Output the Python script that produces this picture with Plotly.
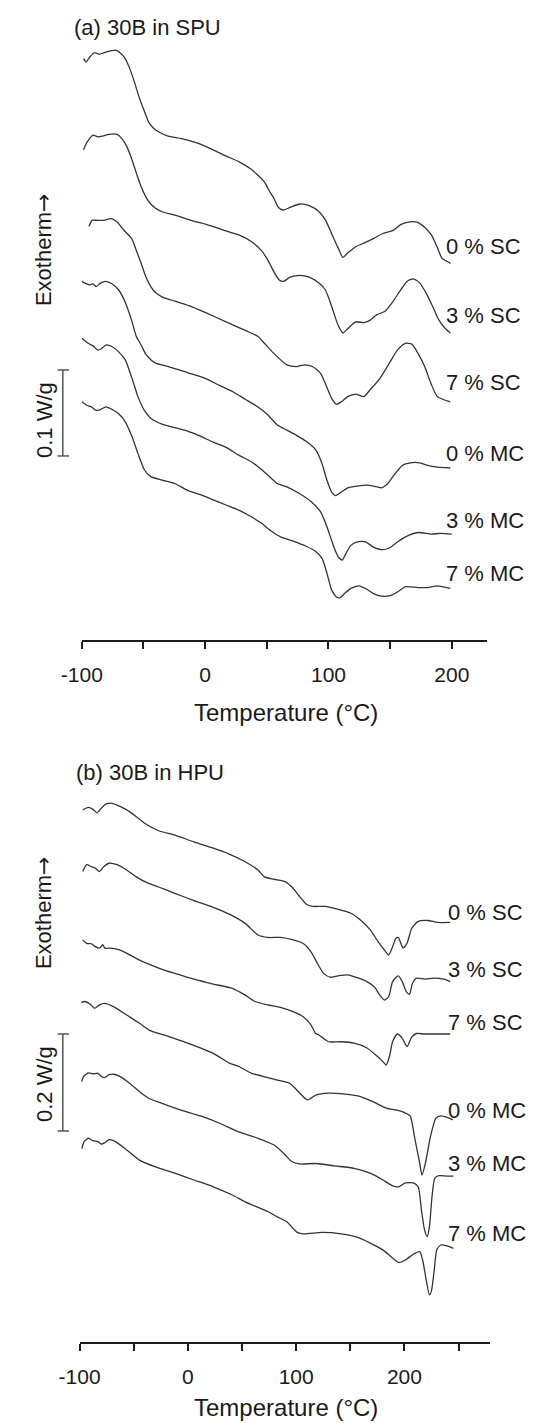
import plotly.graph_objects as go

W, H = 538, 1423

# ---------------- Panel (a): 30B in SPU (heat flow, W/g, curves stacked) -------------
T_a_0SC = [-98.5, -96.6, -93.5, -89.6, -85.7, -81.8, -76.6, -72.7, -69.1, -65.2, -61.3, -57.4, -53.5, -49.6, -45.7, -41.8, -37.9, -30.1, -19.2, -6.7, 6.5, 16.7, 27.6, 37.7, 47.8, 51.7, 55.6, 59.5, 63.4, 68.9, 76.7, 84.4, 92.3, 97.7, 102.4, 107.8, 111.7, 115.6, 121.8, 129.6, 136.7, 144.4, 152.2, 158.5, 164.7, 171.7, 178.0, 183.4, 188.1, 192.0, 199.0]
HF_a_0SC = [0.676, 0.672, 0.678, 0.683, 0.681, 0.683, 0.685, 0.686, 0.683, 0.677, 0.665, 0.649, 0.631, 0.616, 0.602, 0.595, 0.591, 0.586, 0.583, 0.578, 0.570, 0.563, 0.556, 0.547, 0.533, 0.523, 0.514, 0.503, 0.500, 0.503, 0.507, 0.505, 0.498, 0.488, 0.473, 0.456, 0.445, 0.450, 0.457, 0.462, 0.467, 0.473, 0.476, 0.483, 0.486, 0.486, 0.480, 0.471, 0.457, 0.444, 0.438]

T_a_3SC = [-98.6, -96.5, -94.8, -90.9, -87.0, -83.1, -77.9, -71.4, -67.5, -63.6, -59.7, -55.8, -51.9, -48.0, -44.1, -40.2, -35.0, -24.6, -11.6, 1.3, 14.3, 27.3, 37.7, 45.5, 50.7, 55.8, 59.8, 63.6, 68.9, 76.7, 84.4, 92.3, 97.5, 102.6, 107.8, 111.7, 115.6, 122.1, 128.6, 133.8, 139.0, 145.5, 152.0, 158.5, 163.7, 168.8, 174.1, 179.3, 184.4, 189.6, 194.9, 198.8]
HF_a_3SC = [0.570, 0.577, 0.581, 0.587, 0.585, 0.586, 0.588, 0.588, 0.583, 0.574, 0.560, 0.543, 0.527, 0.515, 0.507, 0.502, 0.498, 0.494, 0.488, 0.483, 0.477, 0.471, 0.463, 0.453, 0.442, 0.428, 0.419, 0.417, 0.422, 0.424, 0.422, 0.415, 0.407, 0.388, 0.366, 0.357, 0.362, 0.370, 0.369, 0.372, 0.378, 0.382, 0.393, 0.407, 0.417, 0.420, 0.415, 0.403, 0.388, 0.372, 0.362, 0.357]

T_a_7SC = [-94.2, -91.7, -87.0, -82.3, -76.1, -71.4, -66.2, -59.7, -55.8, -51.9, -48.0, -44.1, -40.2, -35.0, -24.6, -11.6, 1.3, 16.9, 32.5, 42.9, 48.1, 55.8, 66.3, 74.1, 80.6, 87.0, 93.6, 98.7, 102.6, 106.5, 110.4, 115.6, 122.1, 128.6, 133.8, 141.6, 149.4, 155.9, 162.4, 167.6, 172.7, 178.0, 183.2, 188.3, 198.8]
HF_a_7SC = [0.481, 0.488, 0.488, 0.488, 0.490, 0.486, 0.477, 0.467, 0.453, 0.438, 0.422, 0.411, 0.404, 0.399, 0.394, 0.388, 0.380, 0.370, 0.360, 0.353, 0.345, 0.333, 0.320, 0.318, 0.320, 0.318, 0.310, 0.294, 0.281, 0.274, 0.277, 0.283, 0.286, 0.283, 0.291, 0.304, 0.322, 0.337, 0.345, 0.344, 0.333, 0.318, 0.298, 0.283, 0.277]

T_a_0MC = [-100.0, -96.1, -93.5, -90.9, -88.3, -84.9, -80.5, -75.3, -70.1, -64.9, -59.7, -55.8, -51.9, -48.0, -44.1, -40.2, -29.9, -14.3, -1.3, 11.7, 22.1, 32.5, 42.9, 50.7, 58.5, 66.3, 74.1, 81.9, 89.7, 94.8, 98.7, 102.6, 105.7, 110.4, 115.6, 123.4, 131.2, 136.4, 142.9, 148.1, 153.3, 159.8, 166.3, 174.1, 180.5, 188.3, 198.8]
HF_a_0MC = [0.417, 0.414, 0.413, 0.414, 0.411, 0.415, 0.417, 0.414, 0.407, 0.393, 0.372, 0.353, 0.343, 0.332, 0.326, 0.322, 0.318, 0.311, 0.305, 0.296, 0.289, 0.280, 0.271, 0.262, 0.250, 0.244, 0.238, 0.231, 0.221, 0.205, 0.186, 0.172, 0.168, 0.172, 0.177, 0.179, 0.180, 0.179, 0.177, 0.182, 0.192, 0.203, 0.206, 0.206, 0.203, 0.201, 0.200]

T_a_3MC = [-100.0, -94.8, -90.9, -87.0, -83.9, -80.5, -75.3, -70.1, -64.9, -59.7, -54.5, -49.3, -44.1, -35.0, -24.6, -14.3, -3.8, 6.5, 16.9, 27.3, 37.7, 44.2, 50.7, 58.5, 66.3, 76.7, 85.8, 93.6, 98.7, 103.9, 107.8, 111.2, 114.3, 118.2, 123.4, 129.9, 136.4, 142.9, 149.4, 155.9, 162.4, 172.7, 183.2, 191.0, 200.0]
HF_a_3MC = [0.351, 0.345, 0.342, 0.337, 0.339, 0.343, 0.341, 0.335, 0.326, 0.306, 0.283, 0.267, 0.258, 0.251, 0.247, 0.243, 0.237, 0.230, 0.224, 0.215, 0.207, 0.200, 0.192, 0.182, 0.178, 0.170, 0.161, 0.149, 0.132, 0.110, 0.097, 0.093, 0.101, 0.110, 0.114, 0.114, 0.108, 0.105, 0.107, 0.114, 0.120, 0.125, 0.123, 0.124, 0.123]

T_a_7MC = [-100.0, -96.1, -92.2, -88.3, -84.9, -80.5, -75.3, -70.1, -64.9, -59.7, -54.5, -49.3, -44.1, -35.0, -24.6, -14.3, -3.8, 6.5, 16.9, 27.3, 37.7, 45.5, 53.3, 61.1, 71.4, 81.9, 89.7, 94.8, 98.7, 102.6, 106.5, 109.1, 113.0, 118.2, 124.7, 131.2, 136.4, 142.9, 150.7, 157.2, 162.4, 172.7, 180.5, 188.3, 198.8]
HF_a_7MC = [0.277, 0.273, 0.271, 0.267, 0.268, 0.271, 0.268, 0.263, 0.254, 0.238, 0.217, 0.198, 0.190, 0.186, 0.182, 0.174, 0.169, 0.163, 0.157, 0.151, 0.143, 0.136, 0.127, 0.120, 0.115, 0.109, 0.103, 0.095, 0.078, 0.058, 0.050, 0.049, 0.054, 0.060, 0.063, 0.059, 0.054, 0.051, 0.052, 0.057, 0.062, 0.061, 0.061, 0.063, 0.060]

# ---------------- Panel (b): 30B in HPU -------------
T_b_0SC = [-97.1, -92.0, -87.6, -84.0, -80.2, -75.8, -71.3, -65.4, -56.5, -47.6, -38.8, -27.0, -12.1, 5.6, 23.4, 38.2, 52.9, 64.8, 70.7, 79.6, 89.9, 97.3, 103.3, 109.2, 115.1, 126.9, 138.8, 150.6, 159.4, 168.3, 175.8, 181.6, 185.5, 189.1, 192.0, 194.4, 196.7, 198.8, 202.4, 206.8, 212.7, 221.6, 230.4, 242.3]
HF_b_0SC = [1.097, 1.102, 1.098, 1.091, 1.100, 1.109, 1.111, 1.107, 1.097, 1.083, 1.068, 1.054, 1.045, 1.031, 1.018, 1.006, 0.990, 0.973, 0.959, 0.954, 0.949, 0.935, 0.918, 0.903, 0.898, 0.898, 0.892, 0.884, 0.870, 0.850, 0.825, 0.808, 0.798, 0.815, 0.832, 0.834, 0.822, 0.812, 0.822, 0.853, 0.867, 0.869, 0.865, 0.865]

T_b_3SC = [-97.1, -93.5, -89.1, -85.5, -81.6, -77.8, -72.8, -65.4, -56.5, -47.6, -38.8, -27.0, -12.1, 5.6, 23.4, 38.2, 52.9, 64.8, 73.7, 85.5, 97.3, 106.2, 113.6, 119.5, 125.4, 131.4, 138.8, 147.6, 156.5, 165.4, 172.7, 177.2, 181.6, 185.5, 189.1, 194.4, 198.0, 201.8, 204.7, 207.4, 211.3, 218.6, 227.5, 236.4, 242.3]
HF_b_3SC = [0.970, 0.984, 0.980, 0.977, 0.970, 0.980, 0.987, 0.984, 0.973, 0.959, 0.948, 0.938, 0.925, 0.910, 0.896, 0.882, 0.863, 0.839, 0.834, 0.834, 0.829, 0.822, 0.805, 0.781, 0.760, 0.752, 0.755, 0.757, 0.751, 0.743, 0.731, 0.715, 0.705, 0.712, 0.743, 0.755, 0.743, 0.722, 0.717, 0.739, 0.750, 0.748, 0.750, 0.748, 0.743]

T_b_7SC = [-97.1, -93.5, -89.1, -85.5, -81.6, -78.7, -76.7, -71.3, -62.5, -53.6, -41.7, -27.0, -12.1, 5.6, 23.4, 41.1, 52.9, 61.8, 73.7, 85.5, 97.3, 106.2, 113.6, 118.1, 121.0, 129.9, 141.7, 153.6, 165.4, 174.3, 180.2, 183.1, 186.1, 189.1, 193.5, 198.0, 202.4, 206.8, 211.3, 218.6, 230.4, 242.3]
HF_b_7SC = [0.829, 0.822, 0.821, 0.815, 0.812, 0.819, 0.812, 0.812, 0.808, 0.798, 0.784, 0.771, 0.760, 0.748, 0.738, 0.729, 0.715, 0.702, 0.695, 0.690, 0.681, 0.671, 0.654, 0.636, 0.633, 0.619, 0.619, 0.616, 0.606, 0.590, 0.578, 0.571, 0.588, 0.619, 0.635, 0.626, 0.609, 0.629, 0.636, 0.635, 0.635, 0.635]

T_b_0MC = [-98.5, -94.9, -90.5, -86.1, -81.6, -77.2, -68.3, -56.5, -44.7, -35.8, -18.1, -0.3, 23.4, 38.2, 47.1, 58.9, 82.6, 94.4, 103.3, 110.6, 118.1, 129.9, 144.7, 159.4, 171.3, 183.1, 194.9, 200.9, 205.3, 209.8, 214.2, 216.2, 219.3, 224.0, 229.0, 233.5, 239.3, 244.7]
HF_b_0MC = [0.700, 0.702, 0.697, 0.688, 0.695, 0.698, 0.691, 0.674, 0.657, 0.643, 0.630, 0.616, 0.595, 0.575, 0.568, 0.554, 0.540, 0.533, 0.513, 0.499, 0.509, 0.513, 0.511, 0.506, 0.495, 0.482, 0.477, 0.472, 0.466, 0.417, 0.368, 0.344, 0.368, 0.423, 0.461, 0.466, 0.463, 0.458]

T_b_3MC = [-98.0, -96.4, -92.0, -87.6, -83.1, -80.2, -76.7, -72.8, -68.3, -62.5, -53.6, -44.7, -35.8, -23.9, -6.2, 11.6, 29.3, 47.1, 64.8, 79.6, 88.4, 95.9, 103.3, 118.1, 135.8, 153.6, 168.3, 180.2, 189.1, 194.9, 200.9, 208.2, 212.7, 215.7, 218.6, 221.0, 223.1, 225.5, 228.1, 231.9, 239.3, 245.3]
HF_b_3MC = [0.537, 0.547, 0.555, 0.553, 0.554, 0.548, 0.545, 0.551, 0.552, 0.547, 0.533, 0.516, 0.502, 0.492, 0.478, 0.466, 0.451, 0.433, 0.420, 0.406, 0.389, 0.372, 0.367, 0.368, 0.363, 0.358, 0.348, 0.334, 0.322, 0.320, 0.328, 0.328, 0.320, 0.272, 0.231, 0.217, 0.238, 0.300, 0.338, 0.343, 0.342, 0.342]

T_b_7MC = [-98.0, -95.8, -92.0, -87.6, -83.1, -80.2, -76.7, -72.8, -66.9, -56.5, -44.7, -29.9, -12.1, 5.6, 23.4, 41.1, 52.9, 73.7, 82.6, 91.4, 100.3, 106.2, 123.9, 141.7, 156.5, 168.3, 180.2, 189.1, 194.9, 200.9, 208.2, 214.2, 217.1, 220.1, 223.1, 225.1, 227.5, 229.9, 233.5, 239.3, 245.3]
HF_b_7MC = [0.399, 0.413, 0.420, 0.415, 0.413, 0.408, 0.411, 0.417, 0.413, 0.396, 0.375, 0.361, 0.348, 0.334, 0.320, 0.303, 0.289, 0.269, 0.258, 0.248, 0.227, 0.223, 0.226, 0.223, 0.216, 0.204, 0.190, 0.173, 0.164, 0.169, 0.181, 0.186, 0.166, 0.128, 0.097, 0.107, 0.148, 0.190, 0.200, 0.198, 0.193]

labels = ["0 % SC", "3 % SC", "7 % SC", "0 % MC", "3 % MC", "7 % MC"]
curves_a = [(T_a_0SC, HF_a_0SC), (T_a_3SC, HF_a_3SC), (T_a_7SC, HF_a_7SC),
            (T_a_0MC, HF_a_0MC), (T_a_3MC, HF_a_3MC), (T_a_7MC, HF_a_7MC)]
curves_b = [(T_b_0SC, HF_b_0SC), (T_b_3SC, HF_b_3SC), (T_b_7SC, HF_b_7SC),
            (T_b_0MC, HF_b_0MC), (T_b_3MC, HF_b_3MC), (T_b_7MC, HF_b_7MC)]

major_ticks = [-100, 0, 100, 200]
minor_a = [-50, 50, 150]
minor_b = [-50, 50, 150, 250]
xrange_a = [-100, 228.6]
xrange_b = [-100, 279]
yrange_a = [0, 0.6977]
yrange_b = [0, 1.138]
scale_a = (0.214, 0.314)   # 0.1 W/g
scale_b = (0.435, 0.635)   # 0.2 W/g

FONT = "Arial, 'Liberation Sans', Helvetica, sans-serif"
LINE = "#333333"
INK = "#1a1a1a"

fig = go.Figure()
for T, HF in curves_a:
    fig.add_trace(go.Scatter(x=T, y=HF, mode="lines", xaxis="x", yaxis="y",
                             line=dict(color=LINE, width=1.3, shape="spline", smoothing=0.6),
                             showlegend=False, hoverinfo="skip"))
for T, HF in curves_b:
    fig.add_trace(go.Scatter(x=T, y=HF, mode="lines", xaxis="x2", yaxis="y2",
                             line=dict(color=LINE, width=1.3, shape="spline", smoothing=0.6),
                             showlegend=False, hoverinfo="skip"))

def py(v):
    return 1 - v / H

def px(v):
    return v / W

xcommon = dict(showgrid=False, zeroline=False, showline=True, linecolor=INK, linewidth=1.5,
               ticks="outside", ticklen=7, tickwidth=1.5, tickcolor=INK,
               tickvals=major_ticks, ticktext=[str(v) for v in major_ticks],
               tickfont=dict(family=FONT, size=21, color=INK), ticklabelstandoff=8)
ycommon = dict(showgrid=False, zeroline=False, showline=False, showticklabels=False, ticks="")

fig.update_layout(
    width=W, height=H, margin=dict(l=0, r=0, t=0, b=0),
    paper_bgcolor="white", plot_bgcolor="white",
    xaxis=dict(xcommon, domain=[px(63.3), px(485)], range=xrange_a, anchor="y",
               minor=dict(tickvals=minor_a, ticks="outside", ticklen=7, tickwidth=1.5, tickcolor=INK)),
    yaxis=dict(ycommon, domain=[py(640), py(40)], range=yrange_a, anchor="x"),
    xaxis2=dict(xcommon, domain=[px(61), px(488)], range=xrange_b, anchor="y2",
                minor=dict(tickvals=minor_b, ticks="outside", ticklen=7, tickwidth=1.5, tickcolor=INK)),
    yaxis2=dict(ycommon, domain=[py(1342), py(790)], range=yrange_b, anchor="x2"),
)

# scale bars
for yref, (y0, y1) in (("y", scale_a), ("y2", scale_b)):
    fig.add_shape(type="line", xref="paper", yref=yref, x0=px(43.5), x1=px(43.5), y0=y0, y1=y1,
                  line=dict(color="#555555", width=1.5))
    for yy in (y0, y1):
        fig.add_shape(type="line", xref="paper", yref=yref, x0=px(38), x1=px(50), y0=yy, y1=yy,
                      line=dict(color="#555555", width=1.5))

def text(x, y, s, size=22, xanchor="left", angle=0):
    fig.add_annotation(x=px(x), y=py(y), xref="paper", yref="paper", text=s, showarrow=False,
                       xanchor=xanchor, yanchor="middle", textangle=angle,
                       font=dict(family=FONT, size=size, color=INK))

EXO = "Exotherm<span style='font-family:DejaVu Sans'>→</span>"

text(53, 27, "(a) 30B in SPU")
text(55, 772, "(b) 30B in HPU")
text(276, 712, "Temperature (°C)", size=24, xanchor="center")
text(276, 1407, "Temperature (°C)", size=24, xanchor="center")
text(23, 250, EXO, xanchor="center", angle=-90)
text(23, 913, EXO, xanchor="center", angle=-90)
text(24, 420, "0.1 W/g", xanchor="center", angle=-90)
text(24, 1084, "0.2 W/g", xanchor="center", angle=-90)

for lab, yy in zip(labels, [247, 315, 383, 453, 520, 573]):
    text(440, yy, lab)
for lab, yy in zip(labels, [912, 970, 1022, 1110, 1163, 1233]):
    text(442, yy, lab)

fig.write_html("out.html")
